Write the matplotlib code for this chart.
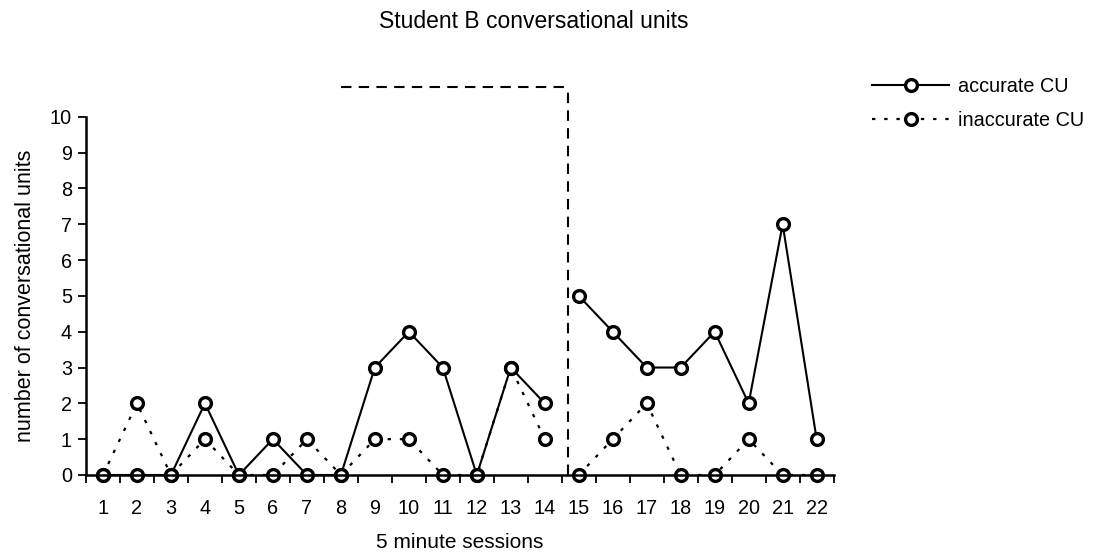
import numpy as np
import matplotlib
matplotlib.use("Agg")
import matplotlib.pyplot as plt

plt.rcParams['font.family'] = ['Liberation Sans', 'DejaVu Sans']

sessions = list(range(1, 23))
accurate = [0, 0, 0, 2, 0, 1, 0, 0, 3, 4, 3, 0, 3, 2, 5, 4, 3, 3, 4, 2, 7, 1]
inaccurate = [0, 2, 0, 1, 0, 0, 1, 0, 1, 1, 0, 0, 3, 1, 0, 1, 2, 0, 0, 1, 0, 0]
phase_break = 14  # last session of baseline phase

fs = 14.3
fig = plt.figure(figsize=(10.94, 5.56), dpi=100)
ax = fig.add_axes([0.0786, 0.1457, 0.6834, 0.6443])

x = np.array(sessions)
a = np.array(accurate)
b = np.array(inaccurate)
pre = x <= phase_break
post = x > phase_break

mk = dict(marker='o', markersize=8.5, markerfacecolor='white',
          markeredgecolor='black', markeredgewidth=2.4, color='black')
for m in (pre, post):
    ax.plot(x[m], b[m], linestyle=(0, (1.5, 4)), linewidth=1.6, clip_on=False,
            label='inaccurate CU' if m is pre else None, **mk)
for m in (pre, post):
    ax.plot(x[m], a[m], linestyle='-', linewidth=1.5, clip_on=False,
            label='accurate CU' if m is pre else None, **mk)

# phase change line
ax.plot([14.67, 14.67], [0, 10.83], color='black', linestyle=(0, (5, 3.5)),
        linewidth=1.5, clip_on=False)
ax.plot([8, 14.67], [10.83, 10.83], color='black', linestyle=(0, (5, 3.5)),
        linewidth=1.5, clip_on=False)

ax.set_xlim(0.5, 22.5)
ax.set_ylim(0, 10)
ax.set_yticks(range(0, 11))
ax.set_xticks(sessions)
ax.set_xticks(np.arange(0.5, 23, 1), minor=True)
ax.tick_params(axis='x', which='major', length=0, pad=17, labelsize=fs)
ax.tick_params(axis='x', which='minor', length=6, width=1.3, direction='out')
ax.tick_params(axis='y', length=6, width=1.3, labelsize=fs, pad=4)
for s in ('top', 'right'):
    ax.spines[s].set_visible(False)
for s in ('left', 'bottom'):
    ax.spines[s].set_linewidth(1.8)

ax.set_ylabel('number of conversational units', fontsize=15.5, labelpad=10)
ax.set_xlabel('5 minute sessions', fontsize=15, labelpad=11)
fig.text(0.488, 0.962, 'Student B conversational units', ha='center',
         va='center', fontsize=16.5)

h, l = ax.get_legend_handles_labels()
ax.legend([h[1], h[0]], [l[1], l[0]], loc='upper left',
          bbox_to_anchor=(0.797, 0.862), bbox_transform=fig.transFigure,
          frameon=False, fontsize=fs, handlelength=3.9, handletextpad=0.45,
          labelspacing=0.78, borderaxespad=0, borderpad=0)

fig.savefig('out.png', dpi=100)
